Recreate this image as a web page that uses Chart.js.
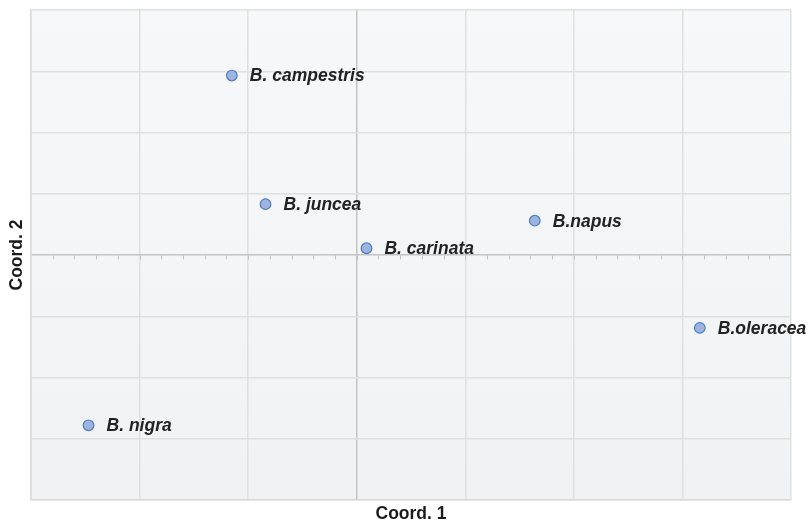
<!DOCTYPE html>
<html>
<head>
<meta charset="utf-8">
<style>
  html, body { margin: 0; padding: 0; background: #ffffff; }
  #wrap { width: 810px; height: 524px; }
</style>
<script src="https://cdn.jsdelivr.net/npm/chart.js@4/dist/chart.umd.min.js"></script>
</head>
<body>
<div id="wrap"><canvas id="chart" width="810" height="524"></canvas></div>
<script>
// Principal coordinates of the six Brassica species
const species = ['B. campestris', 'B. juncea', 'B. carinata', 'B.napus', 'B.oleracea', 'B. nigra'];
const coord1 = [-0.115, -0.084, 0.009, 0.164, 0.316, -0.247];
const coord2 = [0.293, 0.083, 0.011, 0.056, -0.119, -0.278];

// Axis extents and spacing
const xRange = [-0.3, 0.4];
const yRange = [-0.4, 0.4];
const majorStep = 0.1;
const minorStep = 0.02;

const points = species.map((name, i) => ({ x: coord1[i], y: coord2[i], name }));

const FONT_FAMILY = '"Liberation Sans", Arial, Helvetica, sans-serif';
const LABEL_FONT = 'italic bold 17.5px ' + FONT_FAMILY;

// Soft vertical gradient behind the plotting area
const plotBackground = {
  id: 'plotBackground',
  beforeDraw(chart) {
    const { ctx, chartArea: a } = chart;
    const g = ctx.createLinearGradient(0, a.top, 0, a.bottom);
    g.addColorStop(0, '#f7f8f9');
    g.addColorStop(1, '#f1f2f3');
    ctx.save();
    ctx.fillStyle = g;
    ctx.fillRect(a.left, a.top, a.right - a.left, a.bottom - a.top);
    ctx.restore();
  }
};

// Small minor ticks hanging below the horizontal zero axis
const zeroAxisTicks = {
  id: 'zeroAxisTicks',
  afterDraw(chart) {
    const { ctx } = chart;
    const xs = chart.scales.x, ys = chart.scales.y;
    const y0 = Math.round(ys.getPixelForValue(0)) + 0.5;
    ctx.save();
    ctx.strokeStyle = '#c2c2c2';
    ctx.lineWidth = 1;
    ctx.beginPath();
    const n = Math.round((xRange[1] - xRange[0]) / minorStep);
    for (let i = 1; i < n; i++) {
      const v = xRange[0] + i * minorStep;
      const px = Math.round(xs.getPixelForValue(v)) + 0.5;
      ctx.moveTo(px, y0);
      ctx.lineTo(px, y0 + 4);
    }
    ctx.stroke();
    ctx.restore();
  }
};

// Species names written beside their points
const pointNames = {
  id: 'pointNames',
  afterDatasetsDraw(chart) {
    const { ctx } = chart;
    const meta = chart.getDatasetMeta(0);
    ctx.save();
    ctx.font = LABEL_FONT;
    ctx.fillStyle = '#222222';
    ctx.textBaseline = 'middle';
    ctx.textAlign = 'left';
    meta.data.forEach((el, i) => {
      ctx.fillText(points[i].name, el.x + 18, el.y + 1);
    });
    ctx.restore();
  }
};

const gridColor = (c) => (c.tick && Math.abs(c.tick.value) < 1e-9) ? '#c4c4c4' : '#e0e0e0';

new Chart(document.getElementById('chart'), {
  type: 'scatter',
  data: {
    datasets: [{
      data: points,
      pointRadius: 5.3,
      pointHoverRadius: 5.3,
      pointBackgroundColor: '#9db4df',
      pointBorderColor: '#4d7cc3',
      pointBorderWidth: 1.2
    }]
  },
  options: {
    responsive: false,
    animation: false,
    layout: { padding: { top: 10, right: 19, bottom: 0, left: 0 } },
    plugins: {
      legend: { display: false },
      tooltip: { enabled: false }
    },
    scales: {
      x: {
        type: 'linear',
        min: xRange[0],
        max: xRange[1],
        ticks: { display: false, stepSize: majorStep },
        grid: { color: gridColor, lineWidth: 1.5, drawTicks: false },
        border: { color: '#dadada', width: 1.5 },
        title: {
          display: true,
          text: 'Coord. 1',
          color: '#1a1a1a',
          font: { family: FONT_FAMILY, size: 17.5, weight: 'bold', lineHeight: 1.1 },
          padding: { top: 0, bottom: 0 }
        },
        afterFit(scale) { scale.height = 24; }
      },
      y: {
        type: 'linear',
        min: yRange[0],
        max: yRange[1],
        ticks: { display: false, stepSize: majorStep },
        grid: { color: gridColor, lineWidth: 1.5, drawTicks: false },
        border: { color: '#dadada', width: 1.5 },
        title: {
          display: true,
          text: 'Coord. 2',
          color: '#1a1a1a',
          font: { family: FONT_FAMILY, size: 17.5, weight: 'bold', lineHeight: 1.1 },
          padding: { top: 8, bottom: 0 }
        },
        afterFit(scale) { scale.width = 31; }
      }
    }
  },
  plugins: [plotBackground, zeroAxisTicks, pointNames]
});
</script>
</body>
</html>
